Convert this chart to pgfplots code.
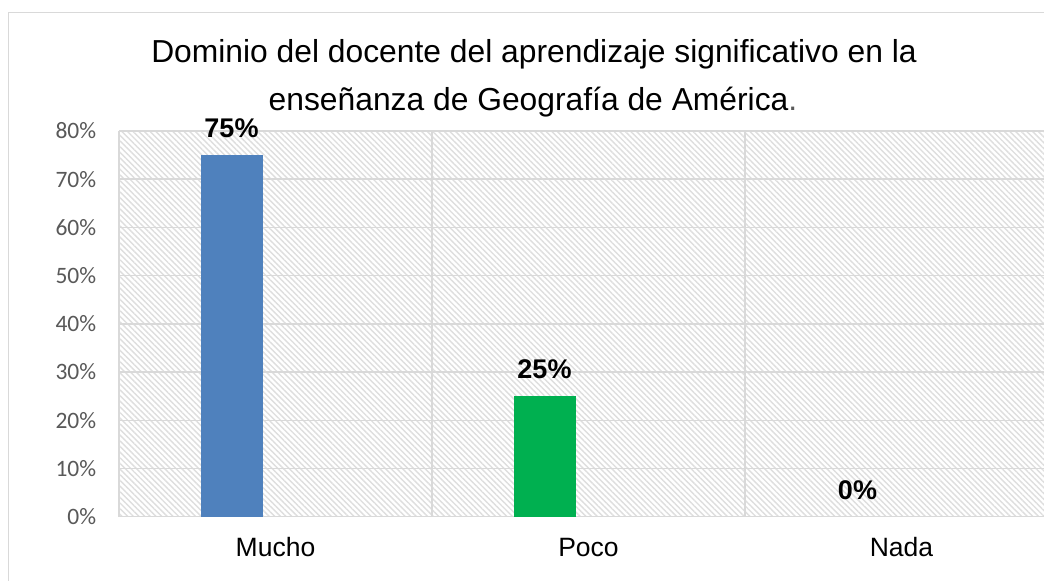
\documentclass[border=0pt]{standalone}
\usepackage{fontspec}
\setmainfont{Liberation Sans}
\newfontfamily\carlito{Carlito}
\usepackage{pgfplots}
\pgfplotsset{compat=1.18}
\usetikzlibrary{patterns.meta}
\definecolor{gridc}{RGB}{217,217,217}
\definecolor{hatchc}{RGB}{222,222,222}
\definecolor{tickc}{RGB}{89,89,89}
\definecolor{barblue}{RGB}{79,129,189}
\definecolor{bargreen}{RGB}{0,176,80}
\begin{document}
\begin{tikzpicture}
\useasboundingbox (0,0) rectangle (522pt,290.5pt);
\fill[white] (0,0) rectangle (522pt,290.5pt);
\draw[gridc, line width=0.75pt] (4.25pt,0) -- (4.25pt,284.25pt) -- (522pt,284.25pt);
\begin{axis}[
  at={(59.5pt,32.15pt)}, anchor=south west,
  scale only axis, width=462.5pt, height=192.85pt,
  xmin=-0.5, xmax=2.4553, ymin=0, ymax=80,
  axis line style={draw=none},
  axis background/.style={pattern={Lines[angle=-45,distance=2pt,line width=0.7pt]}, pattern color=hatchc},
  xtick={0,1,2}, xticklabels={Mucho,Poco,Nada},
  minor xtick={-0.5,0.5,1.5},
  xminorgrids, xmajorgrids=false,
  ytick={0,10,20,30,40,50,60,70,80},
  yticklabels={0\%,10\%,20\%,30\%,40\%,50\%,60\%,70\%,80\%},
  ymajorgrids,
  grid style={gridc, line width=0.75pt},
  minor grid style={gridc, line width=0.75pt},
  major tick length=0pt, minor tick length=0pt,
  yticklabel style={font=\carlito\fontsize{11.75}{12}\selectfont, text=tickc, anchor=east, inner sep=0pt, xshift=-11.2pt},
  xticklabel style={font=\fontsize{13.25}{14}\selectfont, anchor=base, inner sep=0pt, yshift=-20.15pt},
  nodes near coords={\pgfmathprintnumber[assume math mode=true]{\pgfplotspointmeta}\%},
  every node near coord/.append style={font=\bfseries\fontsize{13.5}{14}\selectfont, text=black, anchor=base, inner sep=0pt, yshift=8.75pt, xshift=-22pt},
  clip=false,
]
\addplot[ybar, bar width=31pt, bar shift=-22pt, fill=barblue, draw=none] coordinates {(0,75)};
\addplot[ybar, bar width=31pt, bar shift=-22pt, fill=bargreen, draw=none] coordinates {(1,25)};
\addplot[ybar, bar width=31pt, bar shift=-22pt, fill=none, draw=none] coordinates {(2,0)};
\end{axis}
\node[anchor=base, inner sep=0pt, font=\fontsize{15.9}{18}\selectfont] at (267pt,259.15pt) {Dominio del docente del aprendizaje significativo en la};
\node[anchor=base, inner sep=0pt, font=\fontsize{15.9}{18}\selectfont] at (266.5pt,235pt) {enseñanza de Geografía de América{\color{tickc}.}};
\end{tikzpicture}
\end{document}
